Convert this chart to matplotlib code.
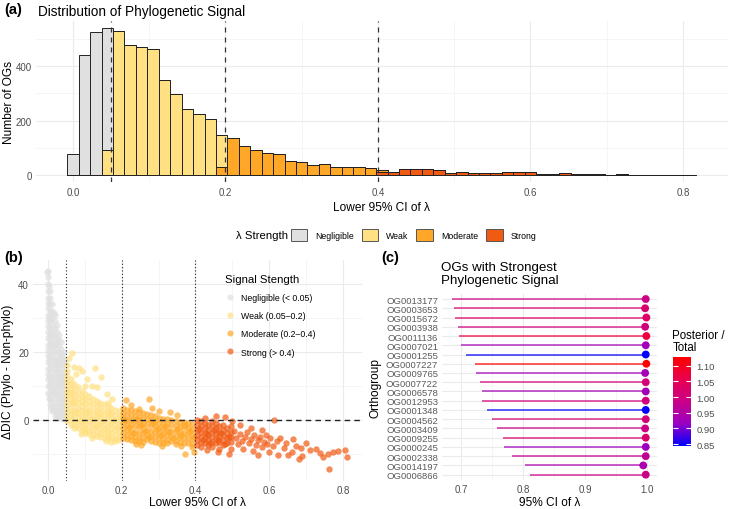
#!/bin/env python
#
# Three-panel figure: phylogenetic signal (lambda) across orthogroups
#
import matplotlib
matplotlib.use("Agg")

import numpy as np
import matplotlib.pyplot as plt
from matplotlib.patches import Patch
from matplotlib.lines import Line2D
from matplotlib.colors import LinearSegmentedColormap, Normalize

plt.rcParams["font.family"] = ["Liberation Sans", "DejaVu Sans"]

# Category names and colours
categories = ["Negligible", "Weak", "Moderate", "Strong"]
cat_colors = ["#E0E0E0", "#FFE082", "#FFA726", "#F05A12"]
scatter_labels = ["Negligible (< 0.05)", "Weak (0.05\u20130.2)",
                  "Moderate (0.2\u20130.4)", "Strong (> 0.4)"]
thresholds = [0.05, 0.2, 0.4]

# ---- (a) histogram counts, binwidth 0.015, bins centred on k*0.015
bin_width = 0.015
n_bins = 55
hist_negligible = [77, 442, 524, 448]                      # bins 0..3
hist_weak = [91, 530, 477, 469, 461, 348, 297, 242, 223, 207, 117]   # bins 3..13
hist_moderate = [29, 135, 107, 92, 82, 76, 50, 49, 36, 42, 31, 31, 31, 27, 5]  # bins 13..27
hist_strong = [13, 13, 23, 23, 21, 17, 6, 10, 9, 8, 6, 10, 13, 10, 4, 5,
               8, 3, 3, 4, 2, 4, 2, 2, 1, 1, 1, 1]          # bins 27..54
hist_start = [0, 3, 13, 27]

# ---- (b) lower CI of lambda vs delta DIC
neg_cols = [
    (0.000, [44, 42, 40, 38, 36, 34.5, 33, 31, 29, 27.5, 26, 24, 22, 20.5, 19, 17, 15, 13.5, 12, 10, 8]),
    (0.006, [38, 36, 34, 32, 30.5, 29, 27, 25, 23.5, 22, 20, 18, 16.5, 15, 13, 11, 9.5, 8, 6, 4.5]),
    (0.012, [34, 32, 30, 28, 26.5, 25, 23, 21, 19.5, 18, 16, 14, 12.5, 11, 9, 7, 5.5, 4, 2.5]),
    (0.018, [31, 29, 27, 25, 23.5, 22, 20, 18, 16.5, 15, 13, 11, 9.5, 8, 6, 4, 2.5, 1]),
    (0.024, [28, 26, 24, 22.5, 21, 19, 17, 15.5, 14, 12, 10, 8.5, 7, 5, 3, 1.5, 0.5]),
    (0.030, [25, 23.5, 22, 20, 18, 16.5, 15, 13, 11, 9.5, 8, 6, 4, 2.5, 1]),
    (0.036, [23, 21, 19.5, 18, 16, 14, 12.5, 11, 9, 7, 5.5, 4, 2, 0.5]),
    (0.042, [20, 18.5, 17, 15, 13, 11.5, 10, 8, 6, 4.5, 3, 1.5, 0.3]),
    (0.047, [17.5, 16, 14, 12.5, 11, 9, 7.5, 6, 4, 2.5, 1, 0.2]),
]
neg_extra = [(-0.003, 43.5), (0.003, 39.5), (0.016, 31.6), (0.004, 6.5), (0.009, 3.5),
             (0.003, 30.0), (0.009, 25.2), (0.015, 21.8), (0.021, 17.2), (0.027, 13.2),
             (0.033, 9.8), (0.039, 6.6), (0.045, 3.4), (0.003, 18.2), (0.015, 8.2)]

weak_cols = [
    (0.052, [16, 14.5, 13, 11.5, 10, 8.5, 7, 5.5, 4, 2.5, 1, -0.5]),
    (0.062, [12, 10.5, 9, 7.5, 6, 4.5, 3, 1.5, 0, -1.5]),
    (0.072, [10.5, 9, 7.5, 6, 4.5, 3, 1.5, 0, -1.5, -2.5]),
    (0.082, [9.5, 8, 6.5, 5, 3.5, 2, 0.5, -1, -2.5]),
    (0.092, [8.5, 7, 5.5, 4, 2.5, 1, -0.5, -2, -3.2]),
    (0.102, [7.5, 6, 4.5, 3, 1.5, 0, -1.5, -3, -4]),
    (0.112, [7, 5.5, 4, 2.5, 1, -0.5, -2, -3.3, -4.3]),
    (0.122, [6, 4.5, 3, 1.5, 0, -1.5, -3, -4.5]),
    (0.132, [5.5, 4, 2.5, 1, -0.5, -2, -3.5, -4.8]),
    (0.142, [5, 3.5, 2, 0.5, -1, -2.5, -4, -5]),
    (0.152, [4.5, 3, 1.5, 0, -1.5, -3, -4.3, -5.3]),
    (0.162, [4, 2.5, 1, -0.5, -2, -3.5, -4.8, -5.5]),
    (0.172, [3.5, 2, 0.5, -1, -2.5, -4, -5.5]),
    (0.182, [3, 1.5, 0, -1.5, -3, -4.5, -5.8]),
    (0.192, [2.5, 1, -0.5, -2, -3.5, -5, -6]),
]
weak_extra = [(0.066, 19.8), (0.057, 18.3), (0.084, 15.2), (0.127, 15.2), (0.143, 12.6),
              (0.107, 11.9), (0.093, 14.4), (0.075, 13.4), (0.120, 9.9), (0.134, 9.6),
              (0.159, 7.5), (0.175, 6.2), (0.163, 5.0), (0.070, 15.5), (0.100, 10.0),
              (0.157, -6.2), (0.170, -6.7), (0.183, -6.4), (0.120, -5.3), (0.090, -4.2),
              (0.057, 7.8), (0.067, 5.2), (0.077, 2.2), (0.087, -0.3), (0.097, -2.6),
              (0.107, 2.2), (0.117, 0.2), (0.127, -2.2), (0.137, 1.7), (0.147, -0.3),
              (0.157, -2.7), (0.167, 1.6), (0.177, -0.3), (0.187, -2.4), (0.197, 0.4)]

mod_cols = [
    (0.203, [3.5, 2, 0.5, -1, -2.5, -4, -5.5]),
    (0.214, [3, 1.5, 0, -1.5, -3, -4.5, -5.8]),
    (0.225, [2.8, 1.3, -0.2, -1.7, -3.2, -4.7, -6]),
    (0.236, [2.5, 1, -0.5, -2, -3.5, -5, -6.2]),
    (0.247, [2.2, 0.7, -0.8, -2.3, -3.8, -5.3, -6.4]),
    (0.258, [2, 0.5, -1, -2.5, -4, -5.5, -6.5]),
    (0.269, [1.6, 0.1, -1.4, -2.9, -4.4, -5.8]),
    (0.280, [1.3, -0.2, -1.7, -3.2, -4.7, -6.2]),
    (0.291, [1, -0.5, -2, -3.5, -5, -6.5]),
    (0.302, [0.6, -0.9, -2.4, -3.9, -5.4, -6.8]),
    (0.313, [0.3, -1.2, -2.7, -4.2, -5.7, -6.9]),
    (0.324, [0.1, -1.4, -2.9, -4.4, -5.9, -7]),
    (0.335, [-0.2, -1.7, -3.2, -4.7, -6.2]),
    (0.346, [-0.4, -1.9, -3.4, -4.9, -6.4, -7.2]),
    (0.357, [-0.6, -2.1, -3.6, -5.1, -6.6]),
    (0.368, [-0.8, -2.3, -3.8, -5.3, -6.8]),
    (0.379, [-1, -2.5, -4, -5.5, -7]),
    (0.390, [-1.2, -2.7, -4.2, -5.7, -7.2]),
]
mod_extra = [(0.211, 5.9), (0.224, 4.3), (0.247, 3.2), (0.274, 6.1), (0.283, 3.4),
             (0.331, 2.2), (0.253, -7.5), (0.362, -7.8), (0.373, -10.1), (0.390, -8.2),
             (0.300, 2.5), (0.350, 1.5), (0.240, -7.2), (0.310, -7.8), (0.395, -9.5),
             (0.208, -0.2), (0.219, -2.3), (0.230, -4.0), (0.241, 0.2), (0.252, -1.6),
             (0.263, -3.3), (0.274, -5.1), (0.285, -1.0), (0.296, -2.8), (0.307, -4.6),
             (0.318, -2.0), (0.329, -3.6), (0.340, -5.4), (0.351, -2.6), (0.362, -4.4),
             (0.373, -1.6), (0.384, -3.2), (0.395, -5.0)]

strong_cols = [
    (0.405, [0, -1.5, -3, -4.5, -6, -7.5]),
    (0.415, [-0.5, -2, -3.5, -5, -6.5, -8]),
    (0.425, [0.5, -1, -2.5, -4, -5.5, -7]),
    (0.435, [-1.5, -3, -4.5, -6, -7.5]),
    (0.445, [-0.5, -2, -3.5, -5, -6.5, -8]),
    (0.455, [-1, -2.5, -4, -5.5, -7]),
    (0.465, [-2, -3.5, -5, -6.5, -8.5]),
    (0.475, [-1.5, -3, -4.5, -6, -7.5]),
    (0.485, [-2.5, -4, -5.5, -7]),
    (0.495, [-2, -3.5, -5, -6.5, -8.5]),
]
strong_extra = [(0.505, -3.2), (0.510, -5.5), (0.515, -7.2), (0.520, -4.2), (0.525, -6.3),
                (0.530, -8.7), (0.535, -5.0), (0.540, -3.6), (0.545, -6.8), (0.550, -5.8),
                (0.555, -9.2), (0.560, -4.5), (0.565, -7.5), (0.570, -6.0), (0.575, -5.2),
                (0.580, -8.0), (0.585, -6.6), (0.590, -4.6), (0.595, -7.2), (0.600, -9.5),
                (0.603, -5.5), (0.613, 0.0), (0.610, -7.8), (0.620, -6.2), (0.625, -10.5),
                (0.630, -5.4), (0.640, -8.3), (0.645, -6.8), (0.652, -10.3), (0.663, -9.6),
                (0.672, -7.7), (0.686, -8.4), (0.689, -10.8), (0.700, -6.8), (0.726, -8.7),
                (0.737, -9.8), (0.746, -10.9), (0.760, -10.2), (0.762, -14.5), (0.773, -9.6),
                (0.787, -9.3), (0.805, -8.9), (0.810, -11.1), (0.710, -9.0), (0.455, 1.2),
                (0.480, 0.8), (0.500, -0.5), (0.520, -1.5), (0.550, -2.5), (0.580, -3.0),
                (0.460, -9.5), (0.490, -10.0), (0.430, -9.0), (0.570, -10.4), (0.665, -5.8),
                (0.680, -11.5), (0.410, -2.8), (0.420, -6.0), (0.430, -4.2), (0.440, -7.0),
                (0.450, -3.0), (0.460, -6.0), (0.470, -4.0), (0.480, -7.2), (0.490, -5.0)]

# ---- (c) orthogroups with strongest signal
og_names = ["OG0013177", "OG0003653", "OG0015672", "OG0003938", "OG0011136",
            "OG0007021", "OG0001255", "OG0007227", "OG0009765", "OG0007722",
            "OG0006578", "OG0012953", "OG0001348", "OG0004562", "OG0003409",
            "OG0009255", "OG0000245", "OG0002338", "OG0014197", "OG0006866"]
og_lower = [0.6856, 0.6883, 0.6899, 0.6947, 0.6973, 0.6995, 0.7075, 0.7224, 0.7246, 0.7310,
            0.7331, 0.7342, 0.7422, 0.7497, 0.7577, 0.7683, 0.7689, 0.7822, 0.8036, 0.8105]
og_upper = [0.998, 0.997, 0.999, 0.997, 0.999, 0.998, 0.998, 0.999, 0.997, 0.998,
            0.998, 0.998, 0.998, 0.998, 0.997, 0.998, 0.998, 0.998, 0.994, 0.998]
og_ratio = [0.99, 1.02, 1.03, 1.00, 1.07, 0.93, 0.846, 1.128, 0.93, 1.01,
            0.93, 1.00, 0.844, 1.01, 0.99, 1.02, 0.92, 0.97, 0.94, 0.99]


def flatten(cols, extra):
    xs, ys = [], []
    for x, col in cols:
        xs += [x] * len(col)
        ys += col
    for x, y in extra:
        xs.append(x)
        ys.append(y)
    return np.array(xs), np.array(ys)


def style_axes(ax, labelsize=7):
    for s in ax.spines.values():
        s.set_visible(False)
    ax.tick_params(which="both", length=0, labelsize=labelsize, labelcolor="#4D4D4D", pad=3)
    ax.set_axisbelow(True)
    ax.grid(which="major", color="#EBEBEB", lw=0.8)
    ax.grid(which="minor", color="#F2F2F2", lw=0.5)


W, H = 732, 510
fig = plt.figure(figsize=(W / 100, H / 100), dpi=100)


def px_axes(x0, y0, x1, y1):
    return fig.add_axes([x0 / W, 1 - y1 / H, (x1 - x0) / W, (y1 - y0) / H])


def px_ylabel(ax, text, x_px, x0, x1):
    # place the y label's right edge at a given pixel column
    ax.set_ylabel(text, fontsize=8.6)
    ax.yaxis.set_label_coords((x_px - x0) / (x1 - x0), 0.5)


# ================= (a) =================
A = (35.8, 21.8, 727.8, 183.4)
ax = px_axes(*A)
style_axes(ax)
counts = []
for vals, start in zip([hist_negligible, hist_weak, hist_moderate, hist_strong], hist_start):
    c = np.zeros(n_bins)
    c[start:start + len(vals)] = vals
    counts.append(c)
centres = np.arange(n_bins) * bin_width
bottom = np.zeros(n_bins)
# stack so that the first level sits on top (ggplot order)
for i in [3, 2, 1, 0]:
    ax.bar(centres, counts[i], width=bin_width, bottom=bottom, color=cat_colors[i],
           edgecolor="#222222", linewidth=0.7, zorder=2)
    bottom += counts[i]
ymax = bottom.max()
ax.set_ylim(-0.05 * ymax, 1.05 * ymax)
ax.set_xlim(-0.04875, 0.85875)
for t in thresholds:
    ax.axvline(t, color="#333333", lw=0.9, ls=(0, (4, 4)), zorder=3)
ax.set_xticks([0.0, 0.2, 0.4, 0.6, 0.8])
ax.set_xticks([0.1, 0.3, 0.5, 0.7], minor=True)
ax.set_yticks([0, 200, 400])
ax.set_yticks([100, 300, 500], minor=True)
ax.set_xlabel("Lower 95% CI of \u03bb", fontsize=8.6, labelpad=3)
px_ylabel(ax, "Number of OGs", 15, A[0], A[2])
fig.text(38 / W, 1 - 12 / H, "Distribution of Phylogenetic Signal", fontsize=9.8, va="center")
fig.text(4 / W, 1 - 10 / H, "(a)", fontsize=10.5, weight="bold", va="center")

# legend for (a)
fig.text(236.5 / W, 1 - 236 / H, "\u03bb Strength", fontsize=8.2, va="center")
handles = [Patch(facecolor=c, edgecolor="#555555", lw=0.7) for c in cat_colors]
fig.legend(handles, categories, loc="center left", bbox_to_anchor=(290.5 / W, 1 - 236 / H),
           ncol=4, frameon=False, fontsize=6.3, handlelength=1.9, handleheight=1.9,
           handletextpad=0.9, columnspacing=0.9, borderpad=0, borderaxespad=0)

# ================= (b) =================
B = (33.1, 261.4, 361.5, 481.7)
ax = px_axes(*B)
style_axes(ax)
point_sets = [flatten(neg_cols, neg_extra), flatten(weak_cols, weak_extra),
              flatten(mod_cols, mod_extra), flatten(strong_cols, strong_extra)]
for (xs, ys), col in zip(point_sets, cat_colors):
    ax.scatter(xs, ys, s=21, color=col, alpha=0.7, linewidths=0, zorder=2)
for t in thresholds:
    ax.axvline(t, color="#222222", lw=0.8, ls=(0, (1, 2)), zorder=3)
ax.axhline(0, color="#222222", lw=1.0, ls=(0, (4, 3)), zorder=3)
ax.set_xlim(-0.04, 0.85)
ax.set_ylim(-18, 47)
ax.set_xticks([0.0, 0.2, 0.4, 0.6, 0.8])
ax.set_xticks([0.1, 0.3, 0.5, 0.7], minor=True)
ax.set_yticks([0, 20, 40])
ax.set_yticks([-10, 10, 30], minor=True)
ax.set_xlabel("Lower 95% CI of \u03bb", fontsize=8.6, labelpad=1)
px_ylabel(ax, "\u0394DIC (Phylo - Non-phylo)", 14, B[0], B[2])
leg_handles = [Line2D([], [], ls="", marker="o", ms=4.4, color=c, alpha=0.7, mew=0)
               for c in cat_colors]
leg = ax.legend(leg_handles, scatter_labels, loc="upper left", bbox_to_anchor=(0.56, 0.975),
                frameon=False, fontsize=6.3, title="Signal Stength", title_fontsize=8.2,
                alignment="left", labelspacing=1.05, handletextpad=0.6, handlelength=1.2)
fig.text(4 / W, 1 - 258 / H, "(b)", fontsize=10.5, weight="bold", va="center")

# ================= (c) =================
C = (442.4, 294.5, 656.9, 481.2)
ax = px_axes(*C)
style_axes(ax)
stops = ["#0000FF", "#9A00C3", "#CA0088", "#E8004F", "#FF0000"]
cmap = LinearSegmentedColormap.from_list("blue_red_lab", stops)
norm = Normalize(vmin=min(og_ratio), vmax=max(og_ratio))
rows = np.arange(len(og_names))[::-1]
for r, lo, hi, v in zip(rows, og_lower, og_upper, og_ratio):
    ax.plot([lo, hi], [r, r], color=cmap(norm(v)), lw=1.2, alpha=0.75, solid_capstyle="butt", zorder=2)
sc = ax.scatter(og_upper, rows, c=og_ratio, cmap=cmap, norm=norm, s=32, linewidths=0, zorder=3)
ax.set_yticks(rows)
ax.set_yticklabels(og_names)
ax.set_ylim(-0.6, len(og_names) - 0.4)
ax.set_xlim(0.670, 1.016)
ax.set_xticks([0.7, 0.8, 0.9, 1.0])
ax.set_xticks([0.75, 0.85, 0.95], minor=True)
ax.tick_params(axis="y", labelsize=6.8, pad=3, labelcolor="#5A5A5A")
ax.set_xlabel("95% CI of \u03bb", fontsize=8.6, labelpad=1)
px_ylabel(ax, "Orthogroup", 382, C[0], C[2])
fig.text(441 / W, 1 - 274.5 / H, "OGs with Strongest\nPhylogenetic Signal", fontsize=9.6,
         va="center", linespacing=1.15)
fig.text(381 / W, 1 - 258 / H, "(c)", fontsize=10.5, weight="bold", va="center")

# colourbar
cax = px_axes(672.7, 358, 690.7, 447)
cb = fig.colorbar(sc, cax=cax)
cb.outline.set_visible(False)
cb.set_ticks([0.85, 0.90, 0.95, 1.00, 1.05, 1.10])
cb.set_ticklabels(["0.85", "0.90", "0.95", "1.00", "1.05", "1.10"])
cax.yaxis.set_ticks_position("both")
cax.tick_params(direction="in", color="white", length=3.5, width=0.8, labelsize=6.8,
                labelcolor="#4D4D4D", labelleft=False, labelright=True, pad=4)
fig.text(672.5 / W, 1 - 342 / H, "Posterior /\nTotal", fontsize=8.3, va="center", linespacing=1.05)

fig.savefig("out.png", dpi=100)
